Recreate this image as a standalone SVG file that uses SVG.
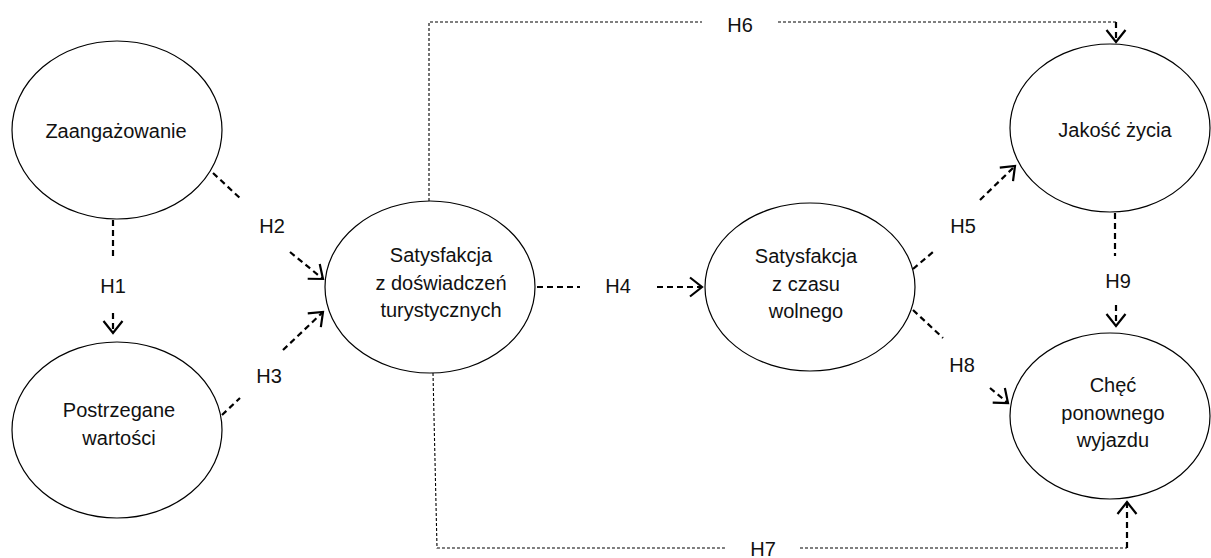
<svg xmlns="http://www.w3.org/2000/svg" width="1211" height="558" viewBox="0 0 1211 558">
<style>
.node{fill:#fff;stroke:#000;stroke-width:1.2}
.t{font-family:"Liberation Sans",Arial,sans-serif;font-size:20px;fill:#111;text-anchor:middle}
.d{fill:none;stroke:#000;stroke-width:2.2;stroke-dasharray:6 4}
.thin{fill:none;stroke:#000;stroke-width:1.1;stroke-dasharray:3 2}
</style>
<defs>
<marker id="ah" markerUnits="userSpaceOnUse" viewBox="-14 -11 16 22" markerWidth="16" markerHeight="22" refX="0" refY="0" orient="auto" overflow="visible">
<path d="M-12,-9.5 L0,0 L-12,9.5" fill="none" stroke="#000" stroke-width="2.2"/>
</marker>
</defs>
<rect width="1211" height="558" fill="#fff"/>
<g id="connectors">
<line class="d" x1="113" y1="220" x2="113" y2="260"/>
<line class="d" x1="113" y1="313" x2="113" y2="333" marker-end="url(#ah)"/>
<line class="d" x1="213" y1="173" x2="242" y2="200"/>
<line class="d" x1="290" y1="252" x2="323" y2="279" marker-end="url(#ah)"/>
<line class="d" x1="222" y1="415" x2="240" y2="398"/>
<line class="d" x1="283" y1="350" x2="323" y2="312" marker-end="url(#ah)"/>
<line class="d" x1="537" y1="287" x2="580" y2="287"/>
<line class="d" x1="657" y1="287" x2="702" y2="287" marker-end="url(#ah)"/>
<line class="d" x1="913" y1="269" x2="933" y2="252"/>
<line class="d" x1="980" y1="200" x2="1015" y2="166" marker-end="url(#ah)"/>
<line class="d" x1="913" y1="310" x2="943" y2="338"/>
<line class="d" x1="990" y1="388" x2="1008" y2="403" marker-end="url(#ah)"/>
<line class="d" x1="1115" y1="213" x2="1115" y2="256"/>
<line class="d" x1="1116" y1="305" x2="1116" y2="326" marker-end="url(#ah)"/>
<path class="thin" d="M429,201 V22 H702"/>
<path class="thin" d="M778,22 H1116"/>
<line class="d" x1="1116" y1="22" x2="1116" y2="42" stroke-width="1.4" marker-end="url(#ah)"/>
<path class="thin" d="M433,373 L437,548 H727"/>
<path class="thin" d="M800,548 H1127"/>
<line class="d" x1="1127" y1="548" x2="1127" y2="502" marker-end="url(#ah)"/>
<text class="t" x="113" y="293">H1</text>
<text class="t" x="272" y="233">H2</text>
<text class="t" x="269" y="383">H3</text>
<text class="t" x="618" y="293">H4</text>
<text class="t" x="963" y="233">H5</text>
<text class="t" x="740" y="32">H6</text>
<text class="t" x="763" y="556">H7</text>
<text class="t" x="962" y="372">H8</text>
<text class="t" x="1118" y="288">H9</text>
</g>
<g id="zaangazowanie">
<ellipse class="node" cx="117" cy="130" rx="105" ry="89"/>
<text class="t" x="116" y="138">Zaangażowanie</text>
</g>
<g id="postrzegane">
<ellipse class="node" cx="117" cy="430" rx="105" ry="88"/>
<text class="t" x="119" y="417">Postrzegane</text>
<text class="t" x="119" y="445">wartości</text>
</g>
<g id="satysfakcja-dosw">
<ellipse class="node" cx="430" cy="287" rx="105" ry="86"/>
<text class="t" x="441" y="262">Satysfakcja</text>
<text class="t" x="441" y="290">z doświadczeń</text>
<text class="t" x="441" y="317">turystycznych</text>
</g>
<g id="satysfakcja-czas">
<ellipse class="node" cx="810" cy="287" rx="105" ry="84"/>
<text class="t" x="806" y="263">Satysfakcja</text>
<text class="t" x="806" y="291">z czasu</text>
<text class="t" x="806" y="318">wolnego</text>
</g>
<g id="jakosc">
<ellipse class="node" cx="1110" cy="128" rx="100" ry="84"/>
<text class="t" x="1115" y="137">Jakość życia</text>
</g>
<g id="chec">
<ellipse class="node" cx="1110" cy="416" rx="100" ry="83"/>
<text class="t" x="1113" y="392">Chęć</text>
<text class="t" x="1113" y="420">ponownego</text>
<text class="t" x="1113" y="447">wyjazdu</text>
</g>
</svg>
